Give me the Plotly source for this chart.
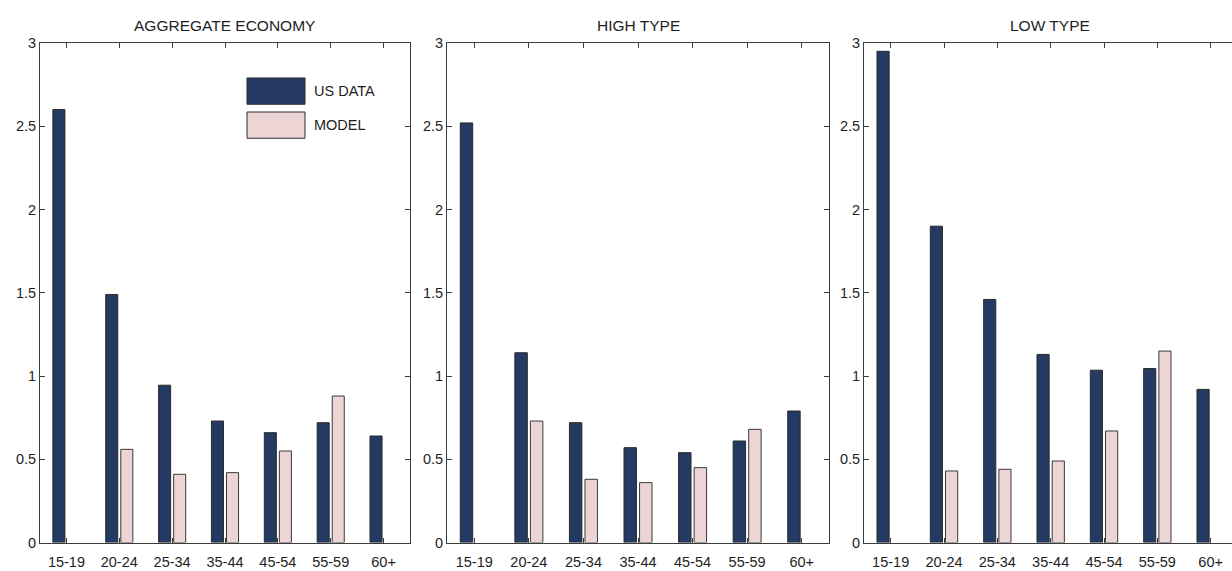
import plotly.graph_objects as go

W, H = 1232, 571

age_groups = ["15-19", "20-24", "25-34", "35-44", "45-54", "55-59", "60+"]
panel_titles = ["AGGREGATE ECONOMY", "HIGH TYPE", "LOW TYPE"]

agg_us = [2.60, 1.49, 0.945, 0.73, 0.66, 0.72, 0.64]
agg_model = [None, 0.56, 0.41, 0.42, 0.55, 0.88, None]

high_us = [2.52, 1.14, 0.72, 0.57, 0.54, 0.61, 0.79]
high_model = [None, 0.73, 0.38, 0.36, 0.45, 0.68, None]

low_us = [2.95, 1.90, 1.46, 1.13, 1.035, 1.045, 0.92]
low_model = [None, 0.43, 0.44, 0.49, 0.67, 1.15, None]

y_ticks = [0, 0.5, 1, 1.5, 2, 2.5, 3]
y_ticktext = ["0", "0.5", "1", "1.5", "2", "2.5", "3"]

series_names = ["US DATA", "MODEL"]
navy = "#243a62"
pink = "#ecd5d4"
edge = "#2a2a2a"
axis_col = "#3c3c3c"
text_col = "#1e1e1e"
FONT = "Arial, Liberation Sans, sans-serif"

panels = [(agg_us, agg_model), (high_us, high_model), (low_us, low_model)]
# panel pixel extents (left, right) and x ranges
px_extents = [(40, 410), (447, 829), (864, 1232)]
x_ranges = [[0.5, 7.5], [0.5, 7.5], [0.5, 7.4]]
title_centers = [224, 638, 1050]
y_top_px, y_bot_px = 36, 550

xcat = list(range(1, len(age_groups) + 1))

fig = go.Figure()
for i, (us, model) in enumerate(panels):
    sfx = "" if i == 0 else str(i + 1)
    fig.add_trace(go.Bar(x=xcat, y=us, name=series_names[0], marker=dict(color=navy, line=dict(color=edge, width=1)),
                         xaxis="x" + sfx, yaxis="y" + sfx, showlegend=False))
    fig.add_trace(go.Bar(x=xcat, y=model, name=series_names[1], marker=dict(color=pink, line=dict(color="#3a3a3a", width=1)),
                         xaxis="x" + sfx, yaxis="y" + sfx, showlegend=False))

layout = dict(
    width=W, height=H,
    margin=dict(l=0, r=0, t=0, b=0),
    paper_bgcolor="white", plot_bgcolor="white",
    barmode="group", bargap=0.43, bargroupgap=0.2,
    showlegend=False,
    font=dict(family=FONT, size=14.5, color=text_col),
)
ydom = [1 - y_bot_px / H, 1 - y_top_px / H]
for i in range(3):
    sfx = "" if i == 0 else str(i + 1)
    l, r = px_extents[i]
    last = i == 2
    layout["xaxis" + sfx] = dict(
        domain=[l / W, r / W], range=x_ranges[i], anchor="y" + sfx,
        tickvals=xcat, ticktext=age_groups, ticks="inside", ticklen=5, tickwidth=1, tickcolor=axis_col,
        ticklabelstandoff=6,
        showline=True, linecolor=axis_col, linewidth=1, mirror="ticks", showgrid=False, zeroline=False,
        tickfont=dict(family=FONT, size=14.5, color=text_col), fixedrange=True,
    )
    layout["yaxis" + sfx] = dict(
        domain=ydom, range=[0, 3], anchor="x" + sfx,
        tickvals=y_ticks, ticktext=y_ticktext, ticks="inside", ticklen=5, tickwidth=1, tickcolor=axis_col,
        showline=True, linecolor=axis_col, linewidth=1, mirror=(False if last else "ticks"),
        showgrid=False, zeroline=False,
        tickfont=dict(family=FONT, size=14.5, color=text_col), fixedrange=True,
    )
fig.update_layout(**layout)

annotations = []
for i, t in enumerate(panel_titles):
    annotations.append(dict(text=t, x=title_centers[i] / W, y=1 - 18 / H, xref="paper", yref="paper",
                            xanchor="center", yanchor="middle", showarrow=False,
                            font=dict(family=FONT, size=15.5, color=text_col)))

# legend (drawn manually to mimic the large MATLAB swatches)
legend_items = [(series_names[0], navy, 72, 99), (series_names[1], pink, 107, 134)]
shapes = []
for name, col, y0, y1 in legend_items:
    shapes.append(dict(type="rect", xref="paper", yref="paper", x0=247 / W, x1=305 / W,
                       y0=1 - y1 / H, y1=1 - y0 / H, fillcolor=col, line=dict(color="#2a2a2a", width=1)))
    annotations.append(dict(text=name, x=312 / W, y=1 - ((y0 + y1) / 2) / H, xref="paper", yref="paper",
                            xanchor="left", yanchor="middle", showarrow=False,
                            font=dict(family=FONT, size=14.5, color=text_col)))
fig.update_layout(annotations=annotations, shapes=shapes)

fig.write_html("out.html")
